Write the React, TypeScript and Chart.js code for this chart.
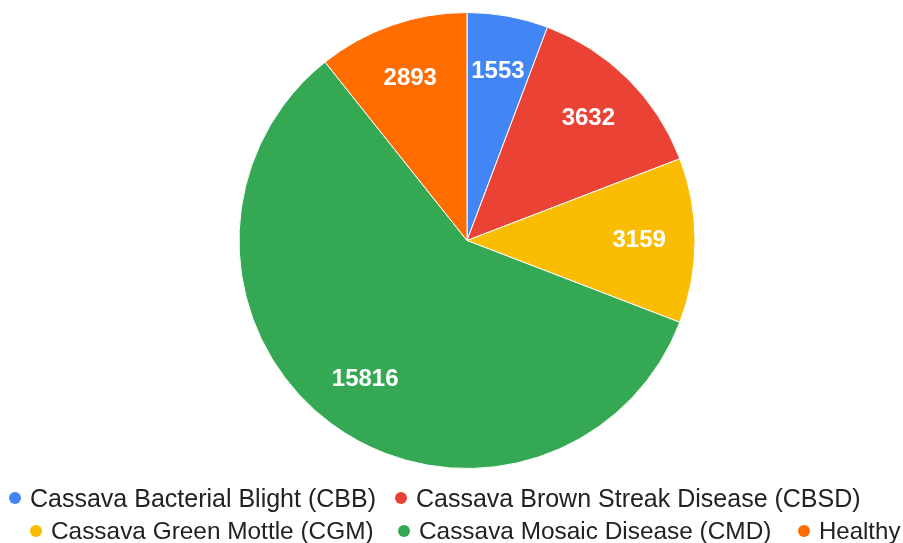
import React, { useEffect, useRef } from "react";
import { Chart, registerables } from "chart.js";

Chart.register(...registerables);

const categories = [
  "Cassava Bacterial Blight (CBB)",
  "Cassava Brown Streak Disease (CBSD)",
  "Cassava Green Mottle (CGM)",
  "Cassava Mosaic Disease (CMD)",
  "Healthy",
];
const counts = [1553, 3632, 3159, 15816, 2893];
const colors = ["#4285F4", "#EA4335", "#FBBC04", "#34A853", "#FF6D01"];

const FONT = '"Liberation Sans", Arial, sans-serif';

const sliceLabels = {
  id: "sliceLabels",
  afterDatasetsDraw(chart: any) {
    const meta = chart.getDatasetMeta(0);
    const ctx = chart.ctx;
    ctx.save();
    ctx.font = `bold 24px ${FONT}`;
    ctx.fillStyle = "#ffffff";
    ctx.textAlign = "center";
    ctx.textBaseline = "middle";
    meta.data.forEach((arc: any, i: number) => {
      const p = arc.getProps(["x", "y", "startAngle", "endAngle", "outerRadius"], true);
      const mid = (p.startAngle + p.endAngle) / 2;
      const r = p.outerRadius * 0.755;
      ctx.fillText(String(counts[i]), p.x + Math.cos(mid) * r, p.y + Math.sin(mid) * r);
    });
    ctx.restore();
  },
};

// legend layout: marker center and font size per category
const legendPos = [
  { cx: 15, cy: 498, fs: 25 },
  { cx: 401, cy: 498, fs: 25 },
  { cx: 36, cy: 531, fs: 24.4 },
  { cx: 404, cy: 531, fs: 24.4 },
  { cx: 804, cy: 531, fs: 24 },
];

export default function App() {
  const ref = useRef<HTMLCanvasElement | null>(null);
  useEffect(() => {
    document.body.style.margin = "0";
    const chart = new Chart(ref.current!, {
      type: "pie",
      data: {
        labels: categories,
        datasets: [
          {
            data: counts,
            backgroundColor: colors,
            borderColor: "#ffffff",
            borderWidth: 1,
          },
        ],
      },
      options: {
        animation: false,
        responsive: false,
        devicePixelRatio: 1,
        layout: { padding: { top: 12, bottom: 74, left: 238, right: 207 } },
        plugins: { legend: { display: false }, tooltip: { enabled: false } },
      },
      plugins: [sliceLabels],
    });
    return () => chart.destroy();
  }, []);

  return (
    <div style={{ position: "relative", width: 903, height: 543, background: "#fff", overflow: "hidden" }}>
      <canvas ref={ref} width={903} height={543} style={{ display: "block" }} />
      {categories.map((name, i) => (
        <div
          key={name}
          style={{
            position: "absolute",
            left: legendPos[i].cx - 6,
            top: legendPos[i].cy - 15,
            height: 30,
            display: "flex",
            alignItems: "center",
            whiteSpace: "nowrap",
            fontFamily: FONT,
            fontSize: legendPos[i].fs,
            color: "#222222",
          }}
        >
          <span
            style={{
              display: "inline-block",
              width: 12,
              height: 12,
              borderRadius: 6,
              background: colors[i],
              marginRight: 9,
            }}
          />
          <span>{name}</span>
        </div>
      ))}
    </div>
  );
}
